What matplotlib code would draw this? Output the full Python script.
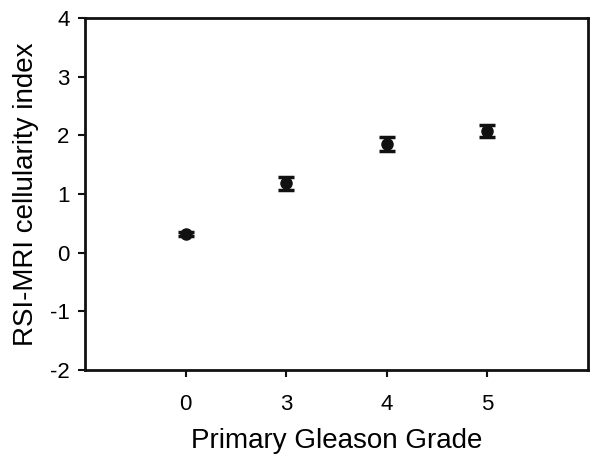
import matplotlib
matplotlib.use("Agg")
import matplotlib.pyplot as plt

categories = ["0", "3", "4", "5"]
values = [0.32, 1.18, 1.85, 2.08]
errors = [0.04, 0.11, 0.12, 0.10]
yticks = [-2, -1, 0, 1, 2, 3, 4]

plt.rcParams['font.family'] = ['Liberation Sans', 'DejaVu Sans']

fig = plt.figure(figsize=(6, 4.65), dpi=100)
ax = fig.add_axes([85/600, 1-370/465, (588-85)/600, (370-18)/465])

xpos = list(range(1, len(categories) + 1))
ax.errorbar(xpos, values, yerr=errors, fmt='o', color='#111111', ecolor='#111111',
            markersize=8, capsize=6, elinewidth=2.5, capthick=2.5)

ax.set_xlim(0, 5)
ax.set_ylim(-2, 4)
ax.set_xticks(xpos)
ax.set_xticklabels(categories)
ax.set_yticks(yticks)
ax.set_yticklabels([str(t) for t in yticks])
for s in ax.spines.values():
    s.set_linewidth(2)
    s.set_color('#111111')
ax.tick_params(axis='both', labelsize=16, width=1.5, length=5, color='#111111')
ax.tick_params(axis='x', pad=12)
ax.tick_params(axis='y', pad=6)
ax.set_xlabel("Primary Gleason Grade", fontsize=20, labelpad=10)
ax.set_ylabel("RSI-MRI cellularity index", fontsize=20, labelpad=8)

fig.savefig("out.png", dpi=100)
